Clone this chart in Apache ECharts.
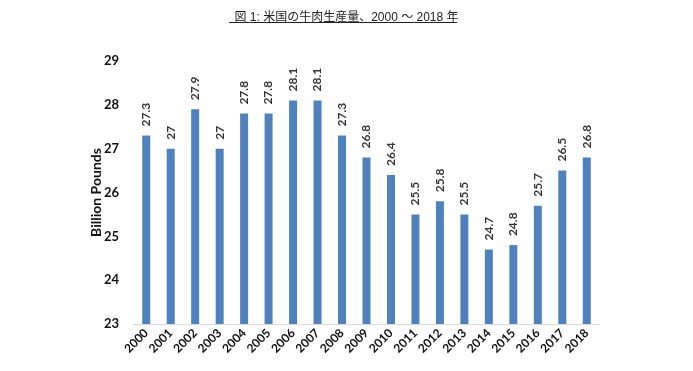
<!DOCTYPE html>
<html><head><meta charset="utf-8">
<script src="https://cdn.jsdelivr.net/npm/echarts@6/dist/echarts.min.js"></script>
<style>html,body{margin:0;padding:0;background:#fff}#c{width:693px;height:371px}</style>
</head><body><div id="c"></div>
<script>
const titleText = '図 1: 米国の牛肉生産量、2000 ～ 2018 年';
const axisName = 'Billion Pounds';
const years = ['2000','2001','2002','2003','2004','2005','2006','2007','2008','2009','2010','2011','2012','2013','2014','2015','2016','2017','2018'];
const production = [27.3,27,27.9,27,27.8,27.8,28.1,28.1,27.3,26.8,26.4,25.5,25.8,25.5,24.7,24.8,25.7,26.5,26.8];

const chart = echarts.init(document.getElementById('c'), null, {renderer:'canvas'});
chart.setOption({
  animation:false,
  backgroundColor:'#fff',
  title:{
    text:titleText, left:'center', top:7,
    textStyle:{fontFamily:"'Liberation Sans','Noto Sans CJK JP'", fontSize:12, fontWeight:'normal', color:'#222'}
  },
  graphic:[{type:'line', shape:{x1:229,y1:22.5,x2:457,y2:22.5}, style:{stroke:'#222', lineWidth:1}}],
  grid:{left:134, right:94, top:61, bottom:47},
  xAxis:{
    type:'category', data:years,
    axisLine:{lineStyle:{color:'#d9d9d9'}},
    axisTick:{show:false},
    axisLabel:{rotate:45, interval:0, margin:7, fontFamily:'Lato', fontWeight:'bold', fontSize:12, color:'#111'}
  },
  yAxis:{
    type:'value', min:23, max:29, interval:1,
    name:axisName, nameLocation:'middle', nameGap:31, nameRotate:90, nameMoveOverlap:false,
    nameTextStyle:{fontFamily:'Lato', fontWeight:'bold', fontSize:14, color:'#111'},
    axisLine:{show:false}, axisTick:{show:false}, splitLine:{show:false},
    axisLabel:{margin:15, fontFamily:'Lato', fontWeight:'bold', fontSize:13, color:'#111'}
  },
  series:[{
    type:'bar', data:production, barWidth:8,
    itemStyle:{color:'#4F81BD'},
    label:{show:true, position:'top', rotate:90, align:'left', verticalAlign:'middle', distance:9,
      fontFamily:'Lato', fontWeight:'bold', fontSize:12, color:'#333'}
  }]
});
</script></body></html>
